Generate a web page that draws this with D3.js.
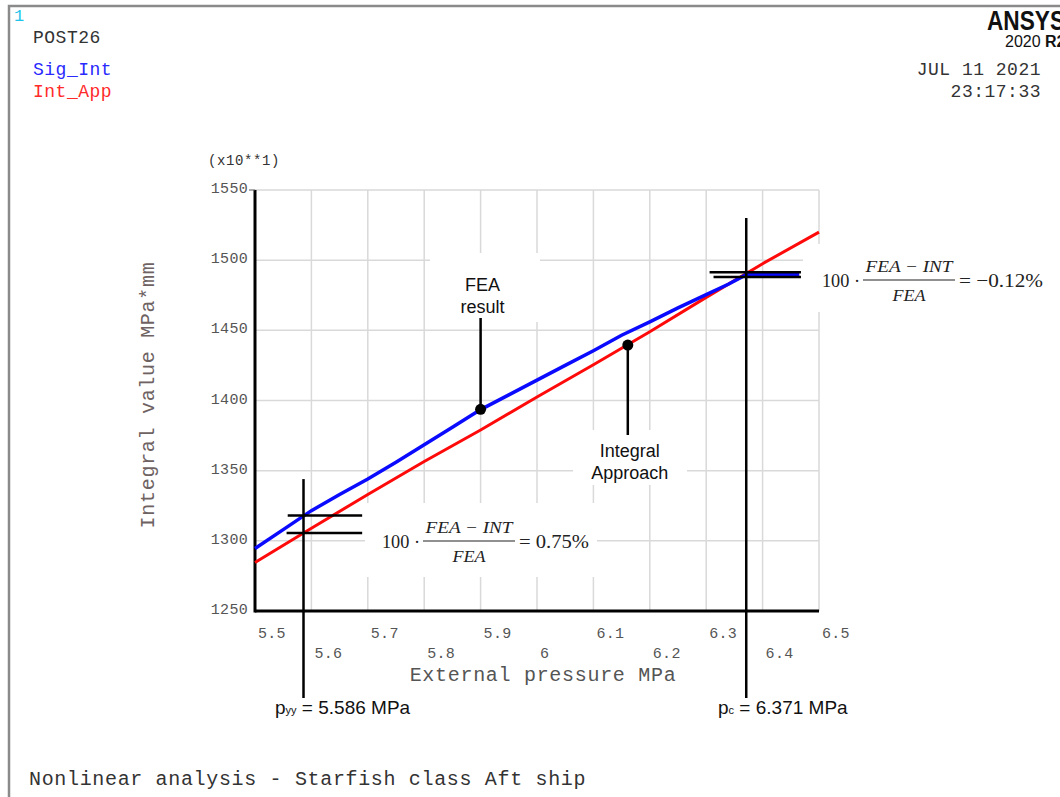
<!DOCTYPE html>
<html>
<head>
<meta charset="utf-8">
<script src="https://cdn.jsdelivr.net/npm/d3@7"></script>
<style>
  body { margin: 0; background: #fff; }
  svg { display: block; }
</style>
</head>
<body>
<div id="chart"></div>
<script>
// values
const xTicks = [5.5, 5.6, 5.7, 5.8, 5.9, 6.0, 6.1, 6.2, 6.3, 6.4, 6.5];
const xTickLabels = ["5.5", "5.6", "5.7", "5.8", "5.9", "6", "6.1", "6.2", "6.3", "6.4", "6.5"];
const yTicks = [1250, 1300, 1350, 1400, 1450, 1500, 1550];

// Sig_Int (FEA), flat after collapse
const pressureSig = [5.50, 5.55, 5.60, 5.65, 5.70, 5.75, 5.80, 5.85, 5.90, 5.95, 6.00, 6.05, 6.10, 6.15, 6.20, 6.25, 6.30, 6.34, 6.371, 6.465];
const sigInt = [1294.5, 1308, 1321.5, 1333, 1344, 1356, 1368.5, 1381, 1393.5, 1404, 1414.5, 1425, 1435.5, 1446.5, 1456, 1466, 1475.5, 1483, 1489.7, 1489.7];

// Int_App (integral approach)
const pressureApp = [5.50, 5.60, 5.70, 5.80, 5.90, 6.00, 6.10, 6.20, 6.30, 6.40, 6.50];
const intApp = [1284.5, 1309, 1333, 1356.5, 1379, 1402.5, 1425.5, 1449, 1473.5, 1497.5, 1520];

// annotations
const pyy = 5.586, pc = 6.371;
const pyyValues = [1318, 1305.5];
const pcValues = [1491.4, 1488];
const feaPoint = [5.9, 1393.7];
const intPoint = [6.161, 1439.5];

const width = 1060, height = 797;
const mono = "'Liberation Mono', 'Courier New', monospace";
const sans = "'Liberation Sans', Arial, sans-serif";
const serif = "'Liberation Serif', 'Times New Roman', serif";

const svg = d3.select("#chart").append("svg")
    .attr("width", width)
    .attr("height", height);

// frame
svg.append("path")
    .attr("d", "M9,800 L9,6 L1065,6")
    .attr("fill", "none")
    .attr("stroke", "#8a8a8a")
    .attr("stroke-width", 2.5);

// header texts
svg.append("text").attr("x", 14).attr("y", 21).text("1")
    .style("font-family", mono).style("font-size", "17px").style("fill", "#1cc4ec");
svg.append("text").attr("x", 33).attr("y", 43).text("POST26")
    .style("font-family", mono).style("font-size", "18px").style("letter-spacing", "0.5px").style("fill", "#333");
svg.append("text").attr("x", 33).attr("y", 75).text("Sig_Int")
    .style("font-family", mono).style("font-size", "18px").style("letter-spacing", "0.5px").style("fill", "#2a2aff");
svg.append("text").attr("x", 33).attr("y", 97).text("Int_App")
    .style("font-family", mono).style("font-size", "18px").style("letter-spacing", "0.5px").style("fill", "#ff2a2a");

svg.append("text").attr("transform", "translate(987,30) scale(0.84,1)").text("ANSYS")
    .style("font-family", sans).style("font-weight", "bold").style("font-size", "27px").style("fill", "#111");
const rel = svg.append("text").attr("x", 1005).attr("y", 47)
    .style("font-family", sans).style("font-size", "16px").style("fill", "#111");
rel.append("tspan").text("2020 ");
rel.append("tspan").text("R2").style("font-weight", "bold");

svg.append("text").attr("x", 1041).attr("y", 75).attr("text-anchor", "end").text("JUL 11 2021")
    .style("font-family", mono).style("font-size", "18px").style("letter-spacing", "0.5px").style("fill", "#333");
svg.append("text").attr("x", 1041).attr("y", 97).attr("text-anchor", "end").text("23:17:33")
    .style("font-family", mono).style("font-size", "18px").style("letter-spacing", "0.5px").style("fill", "#333");

svg.append("text").attr("x", 29).attr("y", 785).text("Nonlinear analysis - Starfish class Aft ship")
    .style("font-family", mono).style("font-size", "20px").style("letter-spacing", "0.66px").style("fill", "#333");

// scales
const x = d3.scaleLinear().domain([5.5, 6.5]).range([255, 819]);
const y = d3.scaleLinear().domain([1250, 1550]).range([611, 190]);

// grid
svg.append("g").selectAll("line")
    .data(xTicks.slice(1))
    .join("line")
    .attr("x1", d => x(d)).attr("x2", d => x(d))
    .attr("y1", y(1550)).attr("y2", y(1250))
    .attr("stroke", "#d9d9d9").attr("stroke-width", 1.5);
svg.append("g").selectAll("line")
    .data(yTicks.slice(1))
    .join("line")
    .attr("x1", x(5.5)).attr("x2", x(6.5))
    .attr("y1", d => y(d)).attr("y2", d => y(d))
    .attr("stroke", "#d9d9d9").attr("stroke-width", 1.5);

// white boxes behind annotation texts
const boxes = [
    [430, 253, 110, 69],
    [573, 430, 114, 55],
    [365, 503, 232, 74],
    [803, 244, 260, 68]
];
svg.append("g").selectAll("rect")
    .data(boxes)
    .join("rect")
    .attr("x", d => d[0]).attr("y", d => d[1])
    .attr("width", d => d[2]).attr("height", d => d[3])
    .attr("fill", "#fff");

// axes lines
svg.append("line")
    .attr("x1", x(5.5)).attr("x2", x(5.5)).attr("y1", y(1550)).attr("y2", y(1250) + 1.5)
    .attr("stroke", "#000").attr("stroke-width", 3);
svg.append("line")
    .attr("x1", x(5.5)).attr("x2", x(6.5)).attr("y1", y(1250)).attr("y2", y(1250))
    .attr("stroke", "#000").attr("stroke-width", 3);
svg.append("line")
    .attr("x1", x(5.5) - 6).attr("x2", x(5.5)).attr("y1", y(1550)).attr("y2", y(1550))
    .attr("stroke", "#555").attr("stroke-width", 1);

// tick labels
svg.append("g").selectAll("text")
    .data(xTicks)
    .join("text")
    .attr("x", d => x(d) + 3)
    .attr("y", (d, i) => i % 2 === 0 ? 638 : 658)
    .text((d, i) => xTickLabels[i])
    .style("font-family", mono).style("font-size", "15px").style("letter-spacing", "0.3px").style("fill", "#555");
svg.append("g").selectAll("text")
    .data(yTicks)
    .join("text")
    .attr("x", x(5.5) - 7)
    .attr("y", d => y(d) + 3)
    .attr("text-anchor", "end")
    .text(d => d)
    .style("font-family", mono).style("font-size", "15px").style("letter-spacing", "0.3px").style("fill", "#555");

svg.append("text").attr("x", 208).attr("y", 165).text("(x10**1)")
    .style("font-family", mono).style("font-size", "14px").style("letter-spacing", "0.6px").style("fill", "#333");

// axis titles
svg.append("text").attr("x", 543).attr("y", 681).attr("text-anchor", "middle")
    .text("External pressure MPa")
    .style("font-family", mono).style("font-size", "20px").style("letter-spacing", "0.7px").style("fill", "#555");
svg.append("text").attr("transform", "translate(154,395) rotate(-90)").attr("text-anchor", "middle")
    .text("Integral value MPa*mm")
    .style("font-family", mono).style("font-size", "20px").style("letter-spacing", "0.7px").style("fill", "#6e6262");

// curves
const line = d3.line().x(d => x(d[0])).y(d => y(d[1]));
svg.append("path")
    .datum(d3.zip(pressureApp, intApp))
    .attr("d", line)
    .attr("fill", "none").attr("stroke", "#ff0a0a").attr("stroke-width", 3);
svg.append("path")
    .datum(d3.zip(pressureSig, sigInt))
    .attr("d", line)
    .attr("fill", "none").attr("stroke", "#0a0aff").attr("stroke-width", 3.5);

// annotation lines
const ann = svg.append("g").attr("stroke", "#000");
ann.append("line").attr("x1", x(pyy)).attr("x2", x(pyy)).attr("y1", y(1344)).attr("y2", y(1188)).attr("stroke-width", 2.5);
ann.append("line").attr("x1", x(pc)).attr("x2", x(pc)).attr("y1", y(1530)).attr("y2", y(1188)).attr("stroke-width", 2.5);
ann.append("line").attr("x1", x(5.558)).attr("x2", x(5.69)).attr("y1", y(pyyValues[0])).attr("y2", y(pyyValues[0])).attr("stroke-width", 2.5);
ann.append("line").attr("x1", x(5.556)).attr("x2", x(5.69)).attr("y1", y(pyyValues[1])).attr("y2", y(pyyValues[1])).attr("stroke-width", 2.5);
ann.append("line").attr("x1", x(6.306)).attr("x2", x(6.468)).attr("y1", y(pcValues[0])).attr("y2", y(pcValues[0])).attr("stroke-width", 2.5);
ann.append("line").attr("x1", x(6.313)).attr("x2", x(6.468)).attr("y1", y(pcValues[1])).attr("y2", y(pcValues[1])).attr("stroke-width", 2.5);
ann.append("line").attr("x1", x(feaPoint[0])).attr("x2", x(feaPoint[0])).attr("y1", y(1458.8)).attr("y2", y(feaPoint[1])).attr("stroke-width", 2.5);
ann.append("line").attr("x1", x(intPoint[0])).attr("x2", x(intPoint[0])).attr("y1", y(intPoint[1])).attr("y2", y(1375.4)).attr("stroke-width", 2.5);

svg.append("g").selectAll("circle")
    .data([feaPoint, intPoint])
    .join("circle")
    .attr("cx", d => x(d[0])).attr("cy", d => y(d[1])).attr("r", 5.5)
    .attr("fill", "#000");

// annotation texts
function label(lines, cx, y0) {
    lines.forEach((t, i) => {
        svg.append("text").attr("x", cx).attr("y", y0 + i * 22).attr("text-anchor", "middle").text(t)
            .style("font-family", sans).style("font-size", "18px").style("fill", "#111");
    });
}
label(["FEA", "result"], x(feaPoint[0]) + 2, 291);
label(["Integral", "Approach"], x(intPoint[0]) + 2, 457);

function pressureLabel(x0, sub, rest) {
    const t = svg.append("text").attr("x", x0).attr("y", 714)
        .style("font-family", sans).style("font-size", "19px").style("fill", "#111");
    t.append("tspan").text("p");
    t.append("tspan").text(sub).style("font-size", "11px");
    t.append("tspan").text(rest);
}
pressureLabel(275, "yy", " = 5.586 MPa");
pressureLabel(718, "c", " = 6.371 MPa");

function formula(x0, base, result, resultWidth) {
    const g = svg.append("g").style("fill", "#222");
    g.append("text").attr("x", x0).attr("y", base).text("100 ·")
        .style("font-family", serif).style("font-size", "18px")
        .attr("textLength", 38).attr("lengthAdjust", "spacingAndGlyphs");
    g.append("text").attr("x", x0 + 87).attr("y", base - 15).attr("text-anchor", "middle").text("FEA − INT")
        .style("font-family", serif).style("font-style", "italic").style("font-size", "17px")
        .attr("textLength", 87).attr("lengthAdjust", "spacingAndGlyphs");
    g.append("line").attr("x1", x0 + 41).attr("x2", x0 + 133).attr("y1", base - 7).attr("y2", base - 7)
        .attr("stroke", "#222").attr("stroke-width", 1.2);
    g.append("text").attr("x", x0 + 87).attr("y", base + 14).attr("text-anchor", "middle").text("FEA")
        .style("font-family", serif).style("font-style", "italic").style("font-size", "17px")
        .attr("textLength", 33).attr("lengthAdjust", "spacingAndGlyphs");
    g.append("text").attr("x", x0 + 137).attr("y", base).text(result)
        .style("font-family", serif).style("font-size", "19px")
        .attr("textLength", resultWidth).attr("lengthAdjust", "spacingAndGlyphs");
}
formula(382, 548, "= 0.75%", 70);
formula(822, 287, "= −0.12%", 84);
</script>
</body>
</html>
